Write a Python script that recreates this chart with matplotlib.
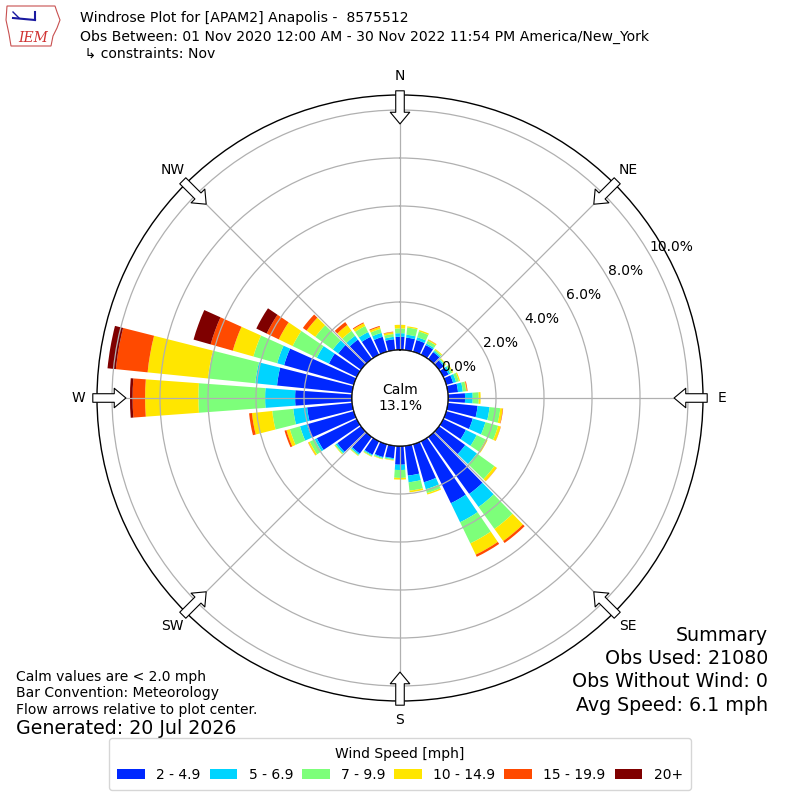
import numpy as np
import matplotlib
matplotlib.use('Agg')
import matplotlib.pyplot as plt
from matplotlib.patches import Patch, Circle, Polygon

# direction bins (deg, meteorological) and frequency (%) per speed class
directions = np.arange(0, 360, 10)
spd_2_5 = [.55, .53, .51, .45, .36, .25, .25, .30, .43, .71,
           1.25, 1.15, 1.05, 1.35, 2.93, 2.87, 1.65, 1.25, .78,
           .52, .56, .62, .86, 1.22, 1.85, 2.03, 1.89,
           2.37, 3.15, 3.02, 1.29, 1.17, 1.00, .83, .65, .46]
spd_5_7 = [.15, .12, .12, .07, .06, .05, .08, .13, .20, .32,
           .50, .55, .50, .60, .67, .88, .30, .28, .22,
           .04, .04, .04, .06, .08, .10, .30, .58,
           1.25, .91, .30, .56, .28, .20, .22, .17, .10]
spd_7_10 = [.20, .30, .25, .13, .06, .05, .09, .12, .14, .25,
            .45, .55, .42, .90, 1.13, .98, .17, .35, .33,
            .04, .04, .04, .04, .05, .23, .44, .88,
            2.78, 1.98, 1.03, 1.12, .90, .25, .28, .17, .12]
spd_10_15 = [.15, .05, .06, .05, .04, .03, .04, .05, .03, .08,
             .10, .11, .08, .12, .62, .52, .06, .07, .07,
             .02, .02, .02, .02, .02, .07, .15, .85,
             2.22, 2.53, .89, .64, .45, .30, .13, .09, .08]
spd_15_20 = [0, 0, 0, .01, 0, 0, 0, 0, .03, 0,
             .02, .01, 0, .01, .10, .10, 0, 0, 0,
             0, 0, 0, 0, 0, .01, .08, .12,
             .52, 1.33, .96, .56, .19, .15, .04, .04, .02]
spd_20p = [0, 0, 0, 0, 0, 0, 0, 0, 0, 0,
           0, 0, 0, 0, 0, 0, 0, 0, 0,
           0, 0, 0, 0, 0, 0, 0, 0,
           .11, .35, .74, .48, 0, 0, 0, 0, 0]
speed_labels = ['2 - 4.9', '5 - 6.9', '7 - 9.9', '10 - 14.9', '15 - 19.9', '20+']
colors = ['#0028ff', '#00d4ff', '#7dff7a', '#ffe600', '#ff4a00', '#7f0000']
calm_pct = 13.1
rings = [0, 2, 4, 6, 8, 10]
compass = ['N', 'NE', 'E', 'SE', 'S', 'SW', 'W', 'NW']

fig = plt.figure(figsize=(8, 8), dpi=100)
ax = fig.add_axes([0.12125, 0.12375, 0.7575, 0.7575], projection='polar')
ax.set_theta_zero_location('N')
ax.set_theta_direction(-1)
ax.set_rorigin(-2.0)
ax.set_ylim(0, 10.625)

theta = np.radians(directions)
bottom = np.zeros(len(directions))
for vals, col in zip([spd_2_5, spd_5_7, spd_7_10, spd_10_15, spd_15_20, spd_20p], colors):
    vals = np.array(vals)
    ax.bar(theta, vals, width=np.radians(8.4), bottom=bottom, color=col,
           edgecolor='none', align='center')
    bottom += vals

ax.set_xticks(np.radians(np.arange(0, 360, 45)))
ax.set_xticklabels([])
ax.set_rgrids(rings, labels=['%.1f%%' % r for r in rings], angle=60, fontsize=10)
ax.grid(color='#b0b0b0', lw=0.9)
ax.spines['polar'].set_linewidth(1.0)

# calm circle
ax.add_patch(Circle((0.5, 0.5), 48 / 606, transform=ax.transAxes,
                    facecolor='white', edgecolor='black', lw=1.0, zorder=3))
ax.text(0.5, 0.5, 'Calm\n%.1f%%' % calm_pct, transform=ax.transAxes,
        ha='center', va='center', fontsize=10, zorder=4)

# compass arrows + labels
for i, lab in enumerate(compass):
    t = np.radians(i * 45)
    ax.annotate('', xy=(t, 9.42), xytext=(t, 10.8),
                arrowprops=dict(arrowstyle='simple,head_length=0.6,head_width=1.0,tail_width=0.44',
                                mutation_scale=14, fc='white', ec='black', lw=0.8,
                                shrinkA=0, shrinkB=0),
                annotation_clip=False, zorder=5)
    ax.text(t, 11.42, lab, ha='center', va='center', fontsize=10, clip_on=False)

# header
fig.text(0.1, 0.9775, 'Windrose Plot for [APAM2] Anapolis -  8575512', fontsize=10.1, va='center')
fig.text(0.1, 0.954, 'Obs Between: 01 Nov 2020 12:00 AM - 30 Nov 2022 11:54 PM America/New_York',
         fontsize=10.1, va='center')
fig.text(0.1, 0.9325, ' \u21b3 constraints: Nov', fontsize=10.1, va='center')

# rough IEM logo
lax = fig.add_axes([5 / 800, 1 - 50 / 800, 57 / 800, 46 / 800])
lax.set_xlim(0, 57)
lax.set_ylim(0, 46)
lax.axis('off')
lax.add_patch(Polygon([[2, 44], [50, 44], [52, 38], [55, 30], [52, 22], [48, 14],
                       [46, 4], [6, 4], [4, 16], [1, 30]],
                      closed=True, fill=False, ec='#c85050', lw=0.8))
lax.plot([8, 30], [32, 30], color='#1a1aa0', lw=1.5)
lax.plot([30, 30], [30, 38], color='#1a1aa0', lw=1.5)
lax.plot([8, 14], [38, 32], color='#1a1aa0', lw=1)
lax.text(28, 12, 'IEM', color='#d03030', fontsize=10, family='serif', style='italic',
         ha='center', va='center')

# footer notes
fig.text(0.02, 0.154, 'Calm values are < 2.0 mph', fontsize=10, va='center')
fig.text(0.02, 0.1335, 'Bar Convention: Meteorology', fontsize=10, va='center')
fig.text(0.02, 0.1125, 'Flow arrows relative to plot center.', fontsize=10, va='center')
fig.text(0.02, 0.089, 'Generated: 20 Jul 2026', fontsize=13.7, va='center')

summary = ['Summary', 'Obs Used: 21080', 'Obs Without Wind: 0', 'Avg Speed: 6.1 mph']
for k, s in enumerate(summary):
    fig.text(0.96, 0.206 - k * 0.0292, s, fontsize=13.7, ha='right', va='center')

handles = [Patch(facecolor=c, label=l) for c, l in zip(colors, speed_labels)]
fig.legend(handles=handles, loc='lower center', bbox_to_anchor=(0.5, 0.0125), ncol=6,
           title='Wind Speed [mph]', fontsize=10, title_fontsize=10, columnspacing=0.65,
           handlelength=2.0, borderaxespad=0, borderpad=0.6, edgecolor='#cccccc')

fig.savefig('out.png', dpi=100)
